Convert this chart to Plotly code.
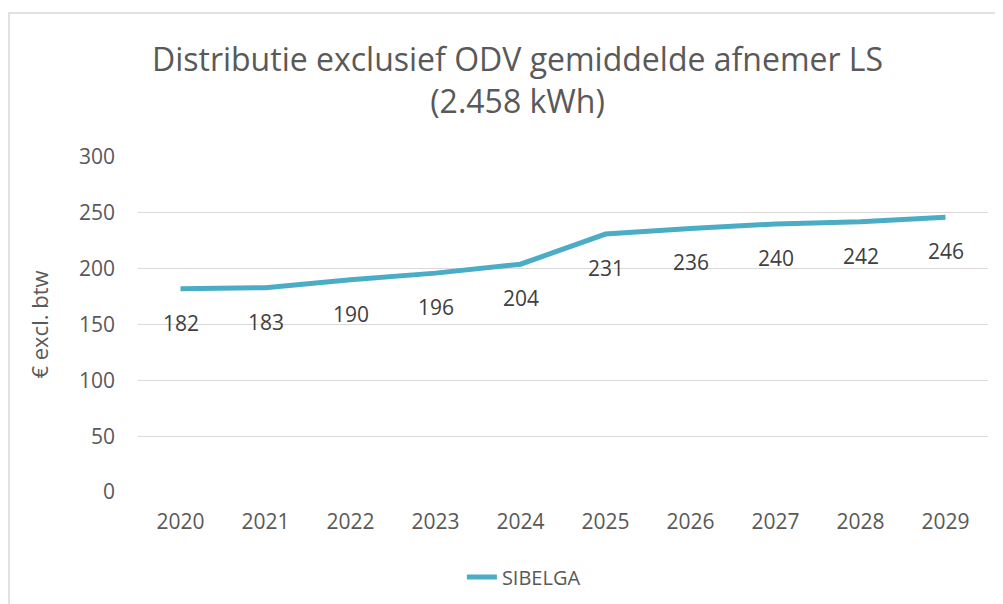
import plotly.graph_objects as go

years = [2020, 2021, 2022, 2023, 2024, 2025, 2026, 2027, 2028, 2029]
sibelga = [182, 183, 190, 196, 204, 231, 236, 240, 242, 246]
y_ticks = [0, 50, 100, 150, 200, 250, 300]

FONT = "Open Sans"
fig = go.Figure()
fig.add_trace(go.Scatter(
    x=years, y=sibelga, mode="lines", name="SIBELGA",
    line=dict(color="#4BACC6", width=5),
))
for x, v in zip(years, sibelga):
    fig.add_annotation(x=x, y=v, text=str(v), showarrow=False, yshift=-34,
                       font=dict(family=FONT, size=21, color="#404040"))

fig.update_layout(
    width=1003, height=604,
    paper_bgcolor="white", plot_bgcolor="white",
    margin=dict(l=130, r=23, t=149, b=120),
    font=dict(family=FONT, color="#595959"),
    title=dict(text="Distributie exclusief ODV gemiddelde afnemer LS<br>(2.458 kWh)",
               x=0.508, xanchor="center", y=0.895, yanchor="middle",
               font=dict(family=FONT, size=32, color="#595959")),
    xaxis=dict(range=[years[0] - 0.5, years[-1] + 0.5], tickvals=years,
               showgrid=False, showline=False, zeroline=False,
               tickfont=dict(size=21, color="#595959"), ticks="", ticklabelstandoff=15),
    yaxis=dict(range=[0, 300], tickvals=y_ticks, showgrid=True, gridcolor="#D9D9D9",
               gridwidth=1.3, zeroline=False, showline=False,
               tickfont=dict(size=21, color="#595959"), ticklabelstandoff=22,
               title=dict(text="€ excl. btw", font=dict(family=FONT, size=22, color="#595959"),
                          standoff=24)),
    showlegend=True,
    legend=dict(orientation="h", x=0.454, xanchor="center", y=-0.254, yanchor="middle",
                font=dict(family=FONT, size=20, color="#595959")),
    shapes=[dict(type="rect", xref="paper", yref="paper",
                 x0=-129/850, x1=1012/850, y0=-130/335, y1=(492-13)/335,
                 line=dict(color="#D9D9D9", width=1.5), fillcolor="rgba(0,0,0,0)", layer="below")],
)
fig.write_html("out.html")
